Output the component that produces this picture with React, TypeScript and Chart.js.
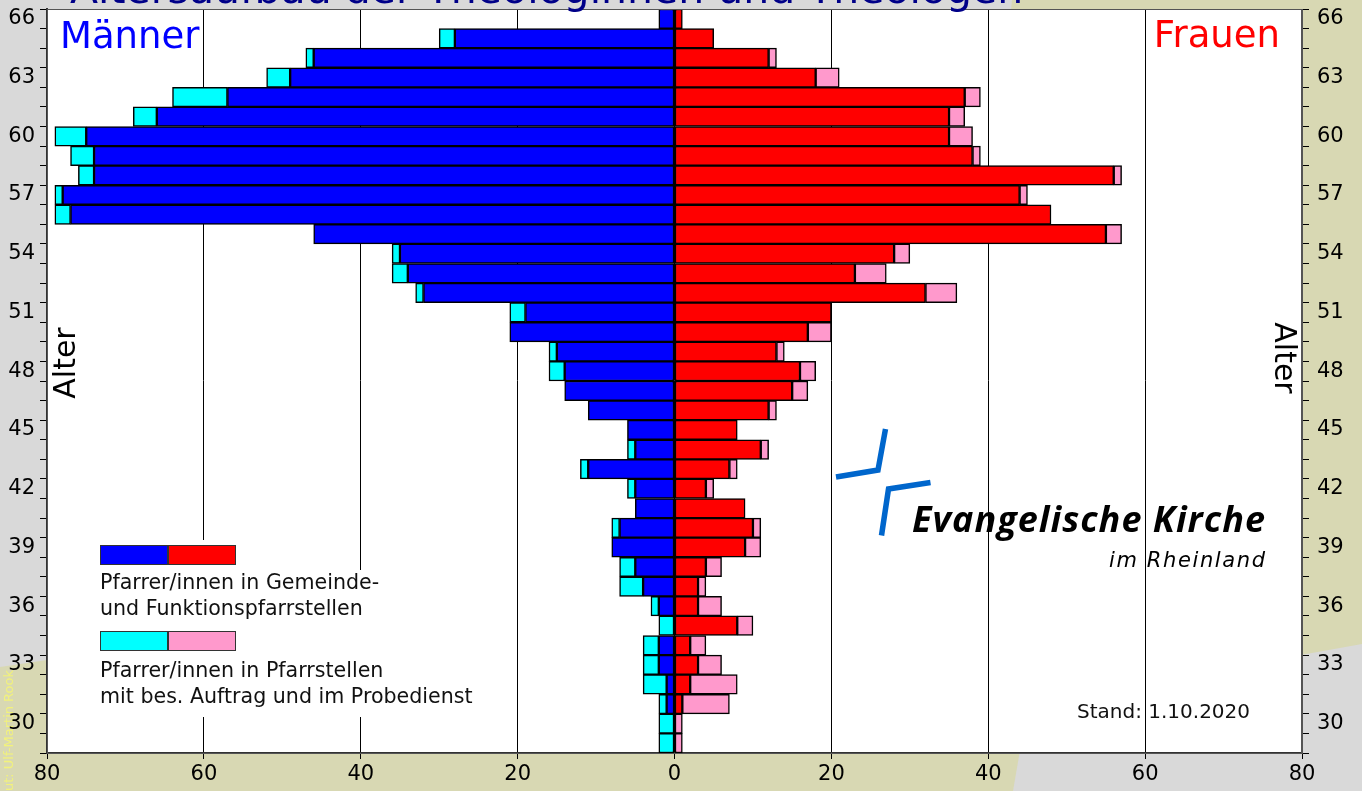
import React, { useEffect, useRef } from 'react';
import { Chart, registerables } from 'chart.js';
Chart.register(...registerables);

// Ages, top to bottom
const ages = [66, 65, 64, 63, 62, 61, 60, 59, 58, 57, 56, 55, 54, 53, 52, 51, 50, 49, 48, 47, 46, 45, 44, 43, 42, 41, 40, 39, 38, 37, 36, 35, 34, 33, 32, 31, 30, 29];

// Männer: Pfarrer/innen in Gemeinde- und Funktionspfarrstellen
const menMain = [2, 28, 46, 49, 57, 66, 75, 74, 74, 78, 77, 46, 35, 34, 32, 19, 21, 15, 14, 14, 11, 6, 5, 11, 5, 5, 7, 8, 5, 4, 2, 0, 2, 2, 1, 1, 0, 0];
// Männer: Pfarrstellen mit bes. Auftrag und Probedienst
const menExtra = [0, 2, 1, 3, 7, 3, 4, 3, 2, 1, 2, 0, 1, 2, 1, 2, 0, 1, 2, 0, 0, 0, 1, 1, 1, 0, 1, 0, 2, 3, 1, 2, 2, 2, 3, 1, 2, 2];
// Frauen: Gemeinde- und Funktionspfarrstellen
const womenMain = [1, 5, 12, 18, 37, 35, 35, 38, 56, 44, 48, 55, 28, 23, 32, 20, 17, 13, 16, 15, 12, 8, 11, 7, 4, 9, 10, 9, 4, 3, 3, 8, 2, 3, 2, 1, 0, 0];
// Frauen: Pfarrstellen mit bes. Auftrag und Probedienst
const womenExtra = [0, 0, 1, 3, 2, 2, 3, 1, 1, 1, 0, 2, 2, 4, 4, 0, 3, 1, 2, 2, 1, 0, 1, 1, 1, 0, 1, 2, 2, 1, 3, 2, 2, 3, 6, 6, 1, 1];

const FONT = 'DejaVu Sans';
const OLIVE = '#d8d8b3';
const GRAY = '#d9d9d9';

export default function App() {
  const ref = useRef<HTMLCanvasElement>(null);

  useEffect(() => {
    const canvas = ref.current;
    if (!canvas) return;
    const ctx = canvas.getContext('2d');
    if (!ctx) return;

    const fitText = (c: any, text: string, x: number, y: number, target: number) => {
      c.letterSpacing = '0px';
      const w = c.measureText(text).width;
      const ls = (target - w) / Math.max(1, text.length - 1);
      c.letterSpacing = `${ls.toFixed(2)}px`;
      c.fillText(text, x, y);
      c.letterSpacing = '0px';
    };

    const decor = {
      id: 'decor',
      beforeDraw(chart: any) {
        const c = chart.ctx;
        const a = chart.chartArea;
        c.save();
        c.fillStyle = OLIVE;
        c.fillRect(0, 0, chart.width, chart.height);
        c.fillStyle = GRAY;
        c.beginPath();
        c.moveTo(0, 0);
        c.lineTo(1012, 0);
        c.lineTo(1008, 40);
        c.lineTo(47, 660);
        c.lineTo(0, 667);
        c.closePath();
        c.fill();
        c.beginPath();
        c.moveTo(1362, 644);
        c.lineTo(1028, 704);
        c.lineTo(1013, 791);
        c.lineTo(1362, 791);
        c.closePath();
        c.fill();
        c.fillStyle = '#ffffff';
        c.fillRect(a.left, a.top, a.right - a.left, a.bottom - a.top);
        // credit text
        c.translate(13, 670);
        c.rotate(-Math.PI / 2);
        c.fillStyle = '#f2f27c';
        c.font = `13px ${FONT}`;
        c.textAlign = 'right';
        c.textBaseline = 'alphabetic';
        c.fillText('Layout: Ulf-Martin Rook', 0, 0);
        c.restore();
      },
      beforeDatasetsDraw(chart: any) {
        const c = chart.ctx;
        c.save();
        c.fillStyle = '#ffffff';
        c.fillRect(95, 540, 146, 177);
        c.fillRect(95, 570, 390, 147);
        c.restore();
      },
      afterDraw(chart: any) {
        const c = chart.ctx;
        const a = chart.chartArea;
        c.save();
        // plot frame
        c.strokeStyle = '#555';
        c.lineWidth = 1;
        c.strokeRect(a.left + 0.5, a.top + 0.5, a.right - a.left - 1, a.bottom - a.top);

        // title (cut off at the top)
        c.fillStyle = '#000088';
        c.font = `41px ${FONT}`;
        c.textAlign = 'left';
        c.textBaseline = 'alphabetic';
        c.fillText('Altersaufbau der Theologinnen und Theologen', 70, 3);

        // Männer / Frauen
        c.font = `37px ${FONT}`;
        c.fillStyle = '#0000ff';
        c.fillText('Männer', 60, 48);
        c.fillStyle = '#ff0000';
        c.textAlign = 'right';
        c.fillText('Frauen', 1280, 47);

        // Alter labels
        c.fillStyle = '#000';
        c.font = `30px ${FONT}`;
        c.textAlign = 'center';
        c.save();
        c.translate(75, 363);
        c.rotate(-Math.PI / 2);
        c.fillText('Alter', 0, 0);
        c.restore();
        c.save();
        c.translate(1275, 358);
        c.rotate(Math.PI / 2);
        c.fillText('Alter', 0, 0);
        c.restore();

        // legend
        const box = (x: number, y: number, col: string) => {
          c.fillStyle = col;
          c.fillRect(x, y, 68, 20);
          c.strokeStyle = '#333';
          c.lineWidth = 1;
          c.strokeRect(x + 0.5, y + 0.5, 67, 19);
        };
        box(100, 545, '#0000ff');
        box(168, 545, '#ff0000');
        box(100, 631, '#00ffff');
        box(168, 631, '#ff99cc');
        c.fillStyle = '#111';
        c.font = `20.6px ${FONT}`;
        c.textAlign = 'left';
        c.fillText('Pfarrer/innen in Gemeinde-', 100, 589);
        c.fillText('und Funktionspfarrstellen', 100, 615);
        c.fillText('Pfarrer/innen in Pfarrstellen', 100, 677);
        c.fillText('mit bes. Auftrag und im Probedienst', 100, 703);

        // Stand
        c.font = `20px ${FONT}`;
        c.fillText('Stand: 1.10.2020', 1077, 718);

        // logo
        c.strokeStyle = '#0066cc';
        c.lineWidth = 5.5;
        c.lineJoin = 'miter';
        c.lineCap = 'butt';
        c.beginPath();
        c.moveTo(885.5, 429);
        c.lineTo(878, 470);
        c.lineTo(836, 477);
        c.stroke();
        c.beginPath();
        c.moveTo(930.5, 482.5);
        c.lineTo(888.5, 489);
        c.lineTo(881.5, 535.5);
        c.stroke();
        c.fillStyle = '#000';
        c.textAlign = 'left';
        c.font = `italic bold 36px "Open Sans"`;
        fitText(c, 'Evangelische Kirche', 912, 532, 353);
        c.font = `oblique 21px "DejaVu Sans"`;
        fitText(c, 'im Rheinland', 1109, 567, 156);
        c.restore();
      },
    };

    const tickFont = { family: FONT, size: 21 };
    const ageCb = (_v: any, i: number) => (ages[i] % 3 === 0 ? String(ages[i]) : '');
    const toNull = (arr: number[], sign: number) => arr.map((v) => (v ? sign * v : null));
    const noPad = (s: any) => {
      s.paddingTop = 0;
      s.paddingBottom = 0;
      s.paddingLeft = 0;
      s.paddingRight = 0;
    };

    const barCommon = {
      borderColor: '#000',
      borderWidth: 1.5,
      borderSkipped: false,
      barPercentage: 1,
      categoryPercentage: 1,
    };

    const chart = new Chart(ctx, {
      type: 'bar',
      data: {
        labels: ages.map(String),
        datasets: [
          { label: 'Männer Gemeinde', data: toNull(menMain, -1), backgroundColor: '#0000ff', ...barCommon },
          { label: 'Männer bes. Auftrag', data: toNull(menExtra, -1), backgroundColor: '#00ffff', ...barCommon },
          { label: 'Frauen Gemeinde', data: toNull(womenMain, 1), backgroundColor: '#ff0000', ...barCommon },
          { label: 'Frauen bes. Auftrag', data: toNull(womenExtra, 1), backgroundColor: '#ff99cc', ...barCommon },
        ] as any,
      },
      options: {
        indexAxis: 'y',
        responsive: false,
        animation: false,
        devicePixelRatio: 1,
        layout: { padding: { top: 9, left: 0, right: 0, bottom: 0 } },
        plugins: { legend: { display: false }, tooltip: { enabled: false }, title: { display: false } },
        scales: {
          x: {
            type: 'linear',
            min: -80,
            max: 80,
            stacked: true,
            ticks: {
              stepSize: 20,
              color: '#000',
              font: tickFont,
              padding: 3,
              maxRotation: 0,
              callback: (v: any) => String(Math.abs(Number(v))),
            },
            grid: { color: '#000', lineWidth: 1, tickLength: 6, drawOnChartArea: true },
            border: { display: true, color: '#333', width: 2 },
            afterFit: (s: any) => {
              s.height = 38;
              noPad(s);
            },
          },
          y: {
            type: 'category',
            position: 'left',
            stacked: true,
            offset: true,
            ticks: { autoSkip: false, color: '#000', font: tickFont, padding: 5, callback: ageCb },
            grid: { offset: true, drawOnChartArea: false, color: '#000', tickLength: 7 },
            border: { display: true, color: '#333', width: 2 },
            afterFit: (s: any) => {
              s.width = 47;
              noPad(s);
            },
          },
          y2: {
            type: 'category',
            position: 'right',
            labels: ages.map(String),
            offset: true,
            ticks: { autoSkip: false, color: '#000', font: tickFont, padding: 8, callback: ageCb },
            grid: { offset: true, drawOnChartArea: false, color: '#000', tickLength: 7 },
            border: { display: true, color: '#555', width: 1 },
            afterFit: (s: any) => {
              s.width = 60;
              noPad(s);
            },
          },
        },
      } as any,
      plugins: [decor],
    });

    return () => chart.destroy();
  }, []);

  return (
    <div style={{ position: 'fixed', left: 0, top: 0, width: 1362, height: 791 }}>
      <canvas ref={ref} width={1362} height={791} style={{ display: 'block' }} />
    </div>
  );
}
